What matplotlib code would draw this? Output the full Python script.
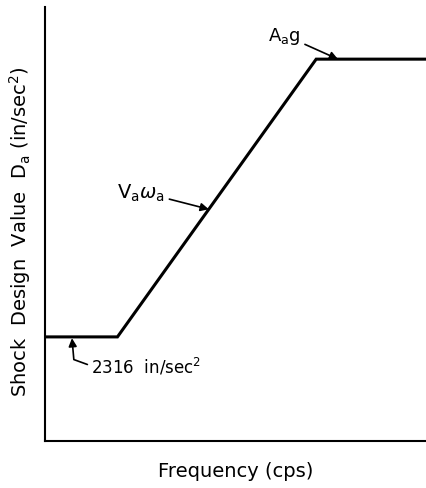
import matplotlib.pyplot as plt

plt.rcParams['font.family'] = 'DejaVu Sans'
plt.rcParams['mathtext.fontset'] = 'dejavusans'

# design shock spectrum: flat, constant-velocity ramp, flat
frequency = [0.0, 1.9, 7.1, 10.0]
design_value = [2.4, 2.4, 8.8, 8.8]

ylabel = r'Shock  Design  Value  $\mathrm{D_a}$ (in/sec$^\mathrm{2}$)'
xlabel = 'Frequency (cps)'
label_low = r'2316  in/sec$^\mathrm{2}$'
label_ramp = r'$\mathrm{V_a}\omega_\mathrm{a}$'
label_high = r'$\mathrm{A_a}$g'


def main():
    fig = plt.figure(figsize=(4.27, 4.89), dpi=100, facecolor='w')
    ax = fig.add_axes([0.105, 0.096, 0.895, 0.8875])
    ax.plot(frequency, design_value, color='black', linewidth=2.2,
            solid_joinstyle='miter')
    ax.set_xlim(0, 10)
    ax.set_ylim(0, 10)
    ax.set_xticks([])
    ax.set_yticks([])
    for side in ['top', 'right']:
        ax.spines[side].set_visible(False)
    for side in ['left', 'bottom']:
        ax.spines[side].set_linewidth(1.5)

    ax.set_xlabel(xlabel, fontsize=14, labelpad=14)
    ax.set_ylabel(ylabel, fontsize=14)
    ax.yaxis.set_label_coords(-0.031, 0.484)

    arrow = dict(arrowstyle='-|>', color='black', linewidth=1.2,
                 mutation_scale=12, shrinkA=1, shrinkB=0)

    # A_a g on the upper plateau
    ax.annotate(label_high, xy=(7.67, design_value[-1]), xytext=(6.7, 9.35),
                ha='right', va='center', fontsize=13, arrowprops=arrow)

    # V_a w_a on the sloped part
    x_r = 4.29
    y_r = design_value[1] + (x_r - frequency[1]) * (
        (design_value[2] - design_value[1]) / (frequency[2] - frequency[1]))
    ax.annotate(label_ramp, xy=(x_r, y_r), xytext=(3.15, 5.74),
                ha='right', va='center', fontsize=14, arrowprops=arrow)

    # 2316 in/sec^2 on the low plateau, bent leader
    low = dict(arrow)
    low['relpos'] = (0.0, 0.5)
    low['connectionstyle'] = 'angle,angleA=160,angleB=-85,rad=0'
    ax.annotate(label_low, xy=(0.71, design_value[0] - 0.03), xytext=(1.22, 1.73),
                ha='left', va='center', fontsize=12, arrowprops=low)

    fig.savefig('out.png', dpi=100)


if __name__ == '__main__':
    main()
